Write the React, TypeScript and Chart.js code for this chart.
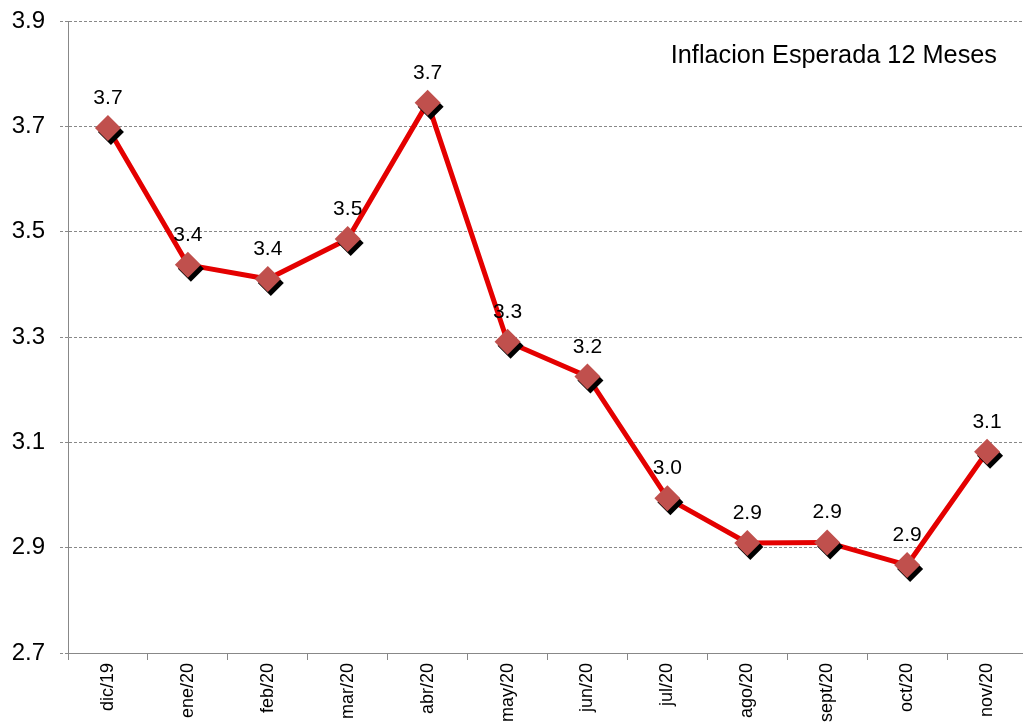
import React, { useEffect, useRef } from "react";
import { Chart, registerables } from "chart.js";

Chart.register(...registerables);

const categories = ["dic/19", "ene/20", "feb/20", "mar/20", "abr/20", "may/20", "jun/20", "jul/20", "ago/20", "sept/20", "oct/20", "nov/20"];
const inflacionEsperada = [3.697, 3.437, 3.41, 3.486, 3.745, 3.291, 3.225, 2.994, 2.909, 2.91, 2.867, 3.082];
const seriesName = "Inflacion Esperada 12 Meses";
const yMin = 2.7;
const yMax = 3.9;
const yStep = 0.2;

const FONT = "'Liberation Sans', Arial, sans-serif";

const shadowPlugin = {
  id: "markerShadow",
  beforeDatasetDraw(chart: any, args: any) {
    if (args.index !== 1) return;
    const ctx = chart.ctx;
    ctx.save();
    ctx.shadowColor = "#000000";
    ctx.shadowOffsetX = 3;
    ctx.shadowOffsetY = 4;
    ctx.shadowBlur = 0;
  },
  afterDatasetDraw(chart: any, args: any) {
    if (args.index !== 1) return;
    chart.ctx.restore();
  },
};

const labelsPlugin = {
  id: "valueLabels",
  afterDatasetsDraw(chart: any) {
    const ctx = chart.ctx;
    const meta = chart.getDatasetMeta(0);
    ctx.save();
    ctx.fillStyle = "#000000";
    ctx.font = `21px ${FONT}`;
    ctx.textAlign = "center";
    ctx.textBaseline = "alphabetic";
    meta.data.forEach((pt: any, i: number) => {
      const v = chart.data.datasets[0].data[i] as number;
      ctx.fillText(v.toFixed(1), pt.x, pt.y - 24);
    });
    // series caption
    const area = chart.chartArea;
    ctx.font = `25.3px ${FONT}`;
    ctx.textAlign = "right";
    ctx.fillText(seriesName, area.right - 30, area.top + 42);
    ctx.restore();
  },
};

export default function App() {
  const ref = useRef<HTMLCanvasElement>(null);

  useEffect(() => {
    if (!ref.current) return;
    const chart = new Chart(ref.current, {
      type: "line",
      data: {
        labels: categories,
        datasets: [
          {
            label: seriesName,
            data: inflacionEsperada,
            borderColor: "#E40000",
            borderWidth: 5,
            tension: 0,
            pointRadius: 0,
            fill: false,
            order: 2,
            clip: false as any,
          },
          {
            label: seriesName + " markers",
            data: inflacionEsperada,
            showLine: false,
            pointStyle: "rectRot",
            pointRadius: 13,
            backgroundColor: "#C0504D",
            borderColor: "#C0504D",
            borderWidth: 0,
            order: 1,
            clip: false as any,
          },
        ],
      },
      options: {
        responsive: false,
        animation: false,
        events: [],
        layout: { padding: { top: 21, right: 7, bottom: 0, left: 0 } },
        plugins: {
          legend: { display: false },
          tooltip: { enabled: false },
          title: { display: false },
        },
        scales: {
          x: {
            offset: true,
            grid: {
              display: true,
              drawOnChartArea: false,
              drawTicks: true,
              tickLength: 7,
              offset: true,
              color: "#888888",
            },
            border: { display: true, color: "#888888", width: 1 },
            ticks: {
              color: "#000000",
              font: { family: FONT, size: 18 },
              maxRotation: 90,
              minRotation: 90,
              padding: 3,
              autoSkip: false,
            },
            afterFit: (scale: any) => {
              scale.height = 75;
              scale.paddingLeft = 0;
              scale.paddingRight = 0;
            },
          },
          y: {
            min: yMin,
            max: yMax,
            grid: {
              color: "#888888",
              lineWidth: 1,
              drawTicks: true,
              tickLength: 8,
              tickBorderDash: [3, 2],
            },
            border: { display: true, color: "#888888", width: 1, dash: [3, 2] },
            ticks: {
              stepSize: yStep,
              color: "#000000",
              font: { family: FONT, size: 24 },
              padding: 15,
              callback: (v: any) => Number(v).toFixed(1),
            },
            afterFit: (scale: any) => {
              scale.width = 68;
              scale.paddingTop = 0;
              scale.paddingBottom = 0;
            },
          },
        },
      },
      plugins: [shadowPlugin, labelsPlugin],
    });
    return () => chart.destroy();
  }, []);

  return (
    <div
      style={{
        position: "fixed",
        left: 0,
        top: 0,
        width: 1023,
        height: 728,
        overflow: "hidden",
        background: "#ffffff",
      }}
    >
      <canvas ref={ref} width={1040} height={728} style={{ width: 1040, height: 728, display: "block" }} />
    </div>
  );
}
